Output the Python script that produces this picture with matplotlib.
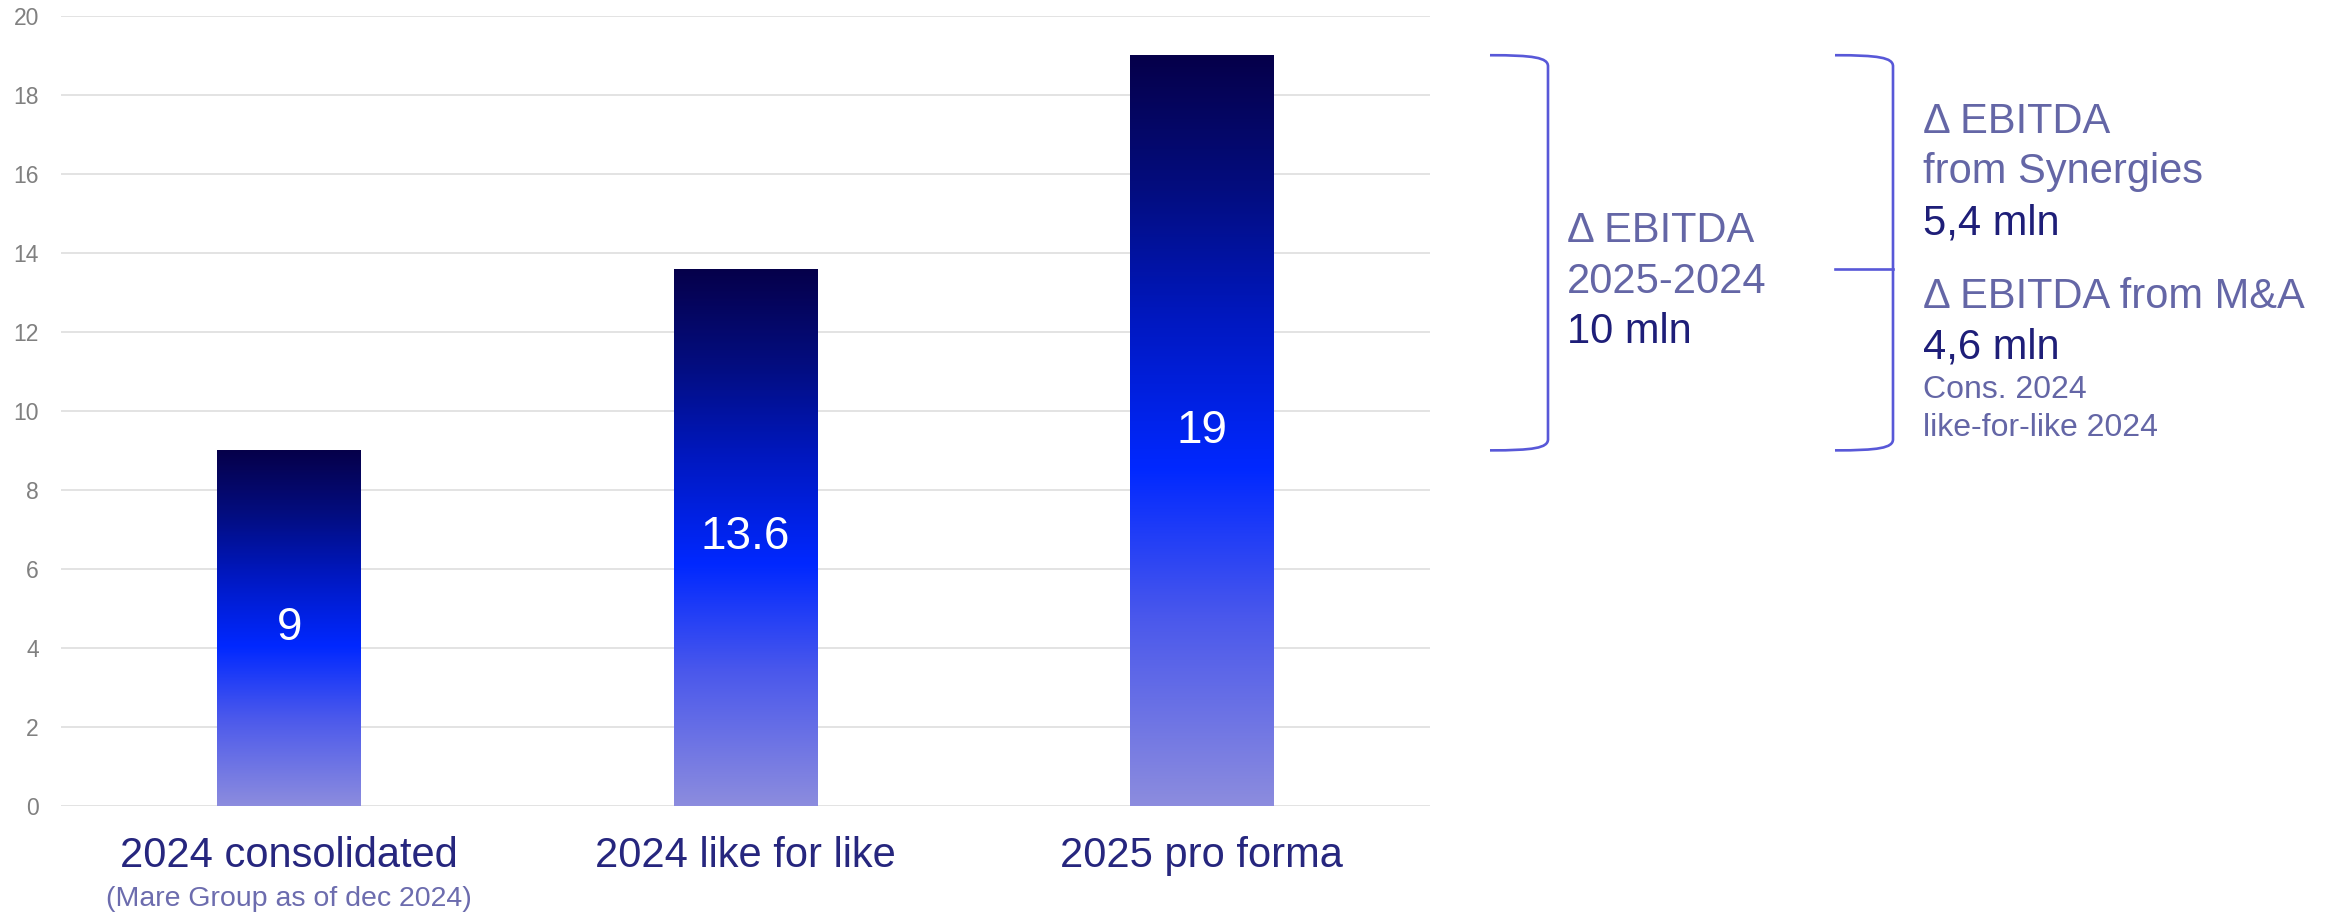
import matplotlib
matplotlib.use("Agg")
import matplotlib.pyplot as plt
import numpy as np
from matplotlib.colors import LinearSegmentedColormap
from matplotlib.path import Path
from matplotlib.patches import PathPatch
from matplotlib.transforms import blended_transform_factory

plt.rcParams['font.family'] = ['Liberation Sans', 'DejaVu Sans']

# EBITDA, mln
categories = ['2024 consolidated', '2024 like for like', '2025 pro forma']
subtitles = ['(Mare Group as of dec 2024)', '', '']
values = [9, 13.6, 19]
value_labels = ['9', '13.6', '19']
y_ticks = [0, 2, 4, 6, 8, 10, 12, 14, 16, 18, 20]

delta_total = 10
delta_synergies = 5.4
delta_mna = 4.6

W, H = 2348, 914
PURPLE = '#6466a6'
NAVY = '#1e1e78'
BRACKET = '#5858d8'


def fx(px):
    return px / W


def fy(py):
    return 1 - py / H


def mln(v):
    return f'{v:g}'.replace('.', ',') + ' mln'


fig = plt.figure(figsize=(W / 100, H / 100), dpi=100)
ax = fig.add_axes([fx(61), fy(806), fx(1430) - fx(61), fy(15.7) - fy(806)])

grad = LinearSegmentedColormap.from_list('bar', [
    (0.0, '#8c8cde'),
    (0.25, '#4a58ec'),
    (0.45, '#0028ff'),
    (0.65, '#0018c0'),
    (0.82, '#030d80'),
    (1.0, '#06004a'),
])

x = np.arange(len(categories))
bars = ax.bar(x, values, width=0.315, color='none', zorder=2)
ramp = np.linspace(0, 1, 256).reshape(-1, 1)
for b in bars:
    x0, w, h = b.get_x(), b.get_width(), b.get_height()
    im = ax.imshow(ramp, cmap=grad, origin='lower', aspect='auto',
                   extent=(x0, x0 + w, 0, h), zorder=2)
    im.set_clip_path(b)

for xi, v, lab in zip(x, values, value_labels):
    ax.text(xi, v / 2, lab, ha='center', va='center', color='white',
            fontsize=33, zorder=3)

ax.set_xlim(-0.5, 2.5)
ax.set_ylim(0, 20)
ax.set_yticks(y_ticks)
ax.set_xticks([])
ax.tick_params(axis='y', length=0, pad=16, labelsize=16.5, labelcolor='#808080')
ax.grid(axis='y', color='#e0e0e0', linewidth=1.3, zorder=0)
ax.set_axisbelow(True)
for s in ax.spines.values():
    s.set_visible(False)

xt = ax.get_xaxis_transform()
for xi, cat, sub in zip(x, categories, subtitles):
    ax.text(xi, -0.0772, cat, transform=xt, ha='center', va='baseline',
            fontsize=30, color='#26267e', clip_on=False)
    if sub:
        ax.text(xi, -0.1265, sub, transform=xt, ha='center', va='baseline',
                fontsize=20.5, color='#6c6cae', clip_on=False)

# brackets: x in figure space, y in data space
bt = blended_transform_factory(fig.transFigure, ax.transData)


def bracket(x0, x1, top, bottom, mid=None):
    w = x1 - x0
    d = 0.28
    verts = [(x0, top), (x1 - 0.25 * w, top), (x1, top - 0.06), (x1, top - d),
             (x1, bottom + d),
             (x1, bottom + 0.06), (x1 - 0.25 * w, bottom), (x0, bottom)]
    codes = [Path.MOVETO, Path.CURVE4, Path.CURVE4, Path.CURVE4,
             Path.LINETO,
             Path.CURVE4, Path.CURVE4, Path.CURVE4]
    fig.add_artist(PathPatch(Path(verts, codes), transform=bt, fill=False,
                             edgecolor=BRACKET, linewidth=1.9))
    if mid is not None:
        fig.add_artist(plt.Line2D([x0, x1], [mid, mid], transform=bt,
                                  color=BRACKET, linewidth=1.9))


bracket(fx(1490), fx(1548), values[2], values[0])
bracket(fx(1835), fx(1893), values[2], values[0], mid=values[2] - delta_synergies)

left_block = [
    ('Δ EBITDA', 242, 30, PURPLE),
    ('2025-2024', 293, 30, PURPLE),
    (mln(delta_total), 343, 30, NAVY),
]
for txt, base, size, col in left_block:
    fig.text(fx(1567), fy(base), txt, fontsize=size, color=col, va='baseline')

right_block = [
    ('Δ EBITDA', 133, 30, PURPLE),
    ('from Synergies', 183, 30, PURPLE),
    (mln(delta_synergies), 235, 30, NAVY),
    ('Δ EBITDA from M&A', 308, 30, PURPLE),
    (mln(delta_mna), 358, 30, NAVY),
    ('Cons. 2024', 398, 23, PURPLE),
    ('like-for-like 2024', 436, 23, PURPLE),
]
for txt, base, size, col in right_block:
    fig.text(fx(1923), fy(base), txt, fontsize=size, color=col, va='baseline')

fig.savefig('out.png', dpi=100, facecolor='white')
